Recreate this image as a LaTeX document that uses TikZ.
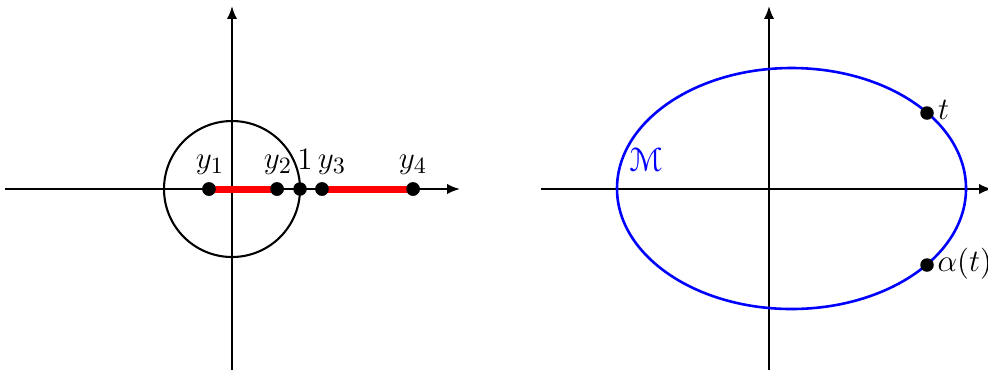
\documentclass[tikz,border=0pt]{standalone}
\usepackage{eucal}
\usetikzlibrary{arrows.meta}
\begin{document}
\begin{tikzpicture}[x=0.385pt,y=-0.385pt,
  axis/.style={line width=0.8pt,-{Latex[length=5pt,width=4pt]}},
  dot/.style={circle,fill=black,inner sep=0pt,minimum size=5.2pt},
  seg/.style={red,line width=2.7pt},
  lbl/.style={inner sep=1pt,font=\fontsize{13}{16}\selectfont}]
\useasboundingbox (0,0) rectangle (988,370);
% left panel
\coordinate (lw) at (5,189);
\coordinate (le) at (460,189);
\coordinate (ls) at (232,370);
\coordinate (ln) at (232,6);
\draw[axis] (lw) -- (le);
\draw[axis] (ls) -- (ln);
\node[circle,draw,line width=0.8pt,minimum size=136*0.385pt,inner sep=0pt] (circ) at (232,189) {};
\node[dot] (p1) at (209,189) {};
\node[dot] (p2) at (277,189) {};
\node[dot] (p0) at (300,189) {};
\node[dot] (p3) at (322,189) {};
\node[dot] (p4) at (413,189) {};
\draw[seg] (p1.center) -- (p2.center);
\draw[seg] (p3.center) -- (p4.center);
\node[dot] at (p1) {};
\node[dot] at (p2) {};
\node[dot] at (p3) {};
\node[dot] at (p4) {};
\node[lbl] (l1) at (210,165) {$y_1$};
\node[lbl] (l2) at (278,165) {$y_2$};
\node[lbl] (l0) at (305,159) {$1$};
\node[lbl] (l3) at (332,165) {$y_3$};
\node[lbl] (l4) at (413,165) {$y_4$};
% right panel
\coordinate (rw) at (541,189);
\coordinate (re) at (992,189);
\coordinate (rs) at (769,370);
\coordinate (rn) at (769,6);
\draw[axis] (rw) -- (re);
\draw[axis] (rs) -- (rn);
\draw[blue,line width=1pt] (791.5,188.5) ellipse [x radius=174.5*0.385pt, y radius=120.5*0.385pt];
\node[dot] (t) at (927,113) {};
\node[dot] (at) at (927,265) {};
\node[lbl,anchor=west] (tl) at (935,110) {$t$};
\node[lbl,anchor=west,inner sep=0pt] (atl) at (937,264) {$\alpha(t)$};
\node[lbl,blue] (M) at (646,160) {$\mathcal{M}$};
\end{tikzpicture}
\end{document}
